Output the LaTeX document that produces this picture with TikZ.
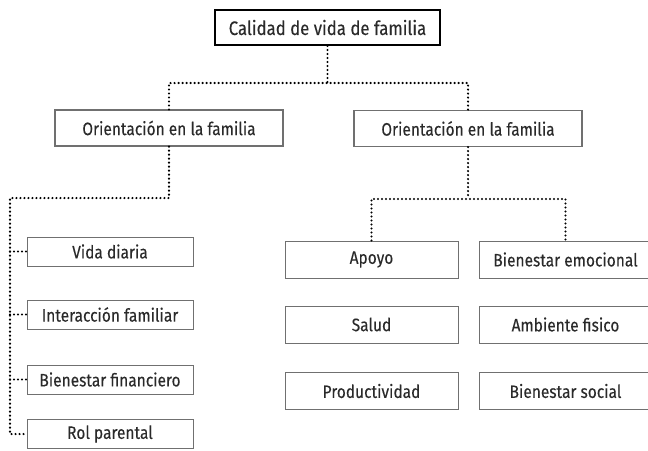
\documentclass[tikz,border=0pt]{standalone}
\usepackage{fontspec}
\setmainfont{Fira Sans}[FakeStretch=0.86, FakeBold=0.2]
\usetikzlibrary{positioning,calc}
\definecolor{boxgray}{HTML}{707070}
\definecolor{txtgray}{HTML}{2A2A2A}

\begin{document}
\begin{tikzpicture}[x=1pt, y=-1pt,
  caja/.style={draw=boxgray, line width=0.9pt, text=txtgray, inner sep=0pt, font=\fontsize{18}{20}\selectfont},
  raiz/.style={caja, draw=black, line width=2pt, minimum width=225pt, minimum height=35pt, font=\fontsize{19.5}{21}\selectfont},
  medio/.style={caja, line width=1.2pt, minimum width=228pt, minimum height=36pt},
  hojaL/.style={caja, minimum width=166pt, minimum height=29pt},
  hojaR/.style={caja, minimum width=173pt, minimum height=37pt},
  puntos/.style={line width=2.3pt, line cap=round, dash pattern=on 0pt off 4pt}]
\useasboundingbox (0,0) rectangle (648,450);
\node [raiz] (calidad) at (327.5, 27.5) {Calidad de vida de familia};
\node [medio] (orizq) at (169, 128) {Orientación en la familia};
\node [medio] (order) at (468, 128.5) {Orientación en la familia};
\node [hojaL] (vida) at (110, 251.5) {Vida diaria};
\node [hojaL] (interac) at (110, 314.5) {Interacción familiar};
\node [hojaL] (financ) at (110, 379.5) {Bienestar financiero};
\node [hojaL] (rol) at (110, 434) {Rol parental};
\node [hojaR] (apoyo) at (371.5, 259.5) {Apoyo};
\node [hojaR] (salud) at (371.5, 324.5) {Salud};
\node [hojaR] (product) at (371.5, 391) {Productividad};
\node [hojaR] (emoc) at (565.5, 259.5) {Bienestar emocional};
\node [hojaR] (ambiente) at (565.5, 324.5) {Ambiente fisico};
\node [hojaR] (social) at (565.5, 391) {Bienestar social};
\coordinate (j1) at (327.5, 83);
\coordinate (busL) at (10, 198);
\coordinate (j3) at (468, 199);
\draw [puntos] (calidad.south) -- (j1);
\draw [puntos] (orizq.north) |- (j1) -| (order.north);
\draw [puntos] (orizq.south) |- (busL) |- (rol.west);
\draw [puntos] (busL |- vida.west) -- (vida.west);
\draw [puntos] (busL |- interac.west) -- (interac.west);
\draw [puntos] (busL |- financ.west) -- (financ.west);
\draw [puntos] (order.south) -- (j3);
\draw [puntos] (apoyo.north) |- (j3) -| (emoc.north);
\end{tikzpicture}
\end{document}
